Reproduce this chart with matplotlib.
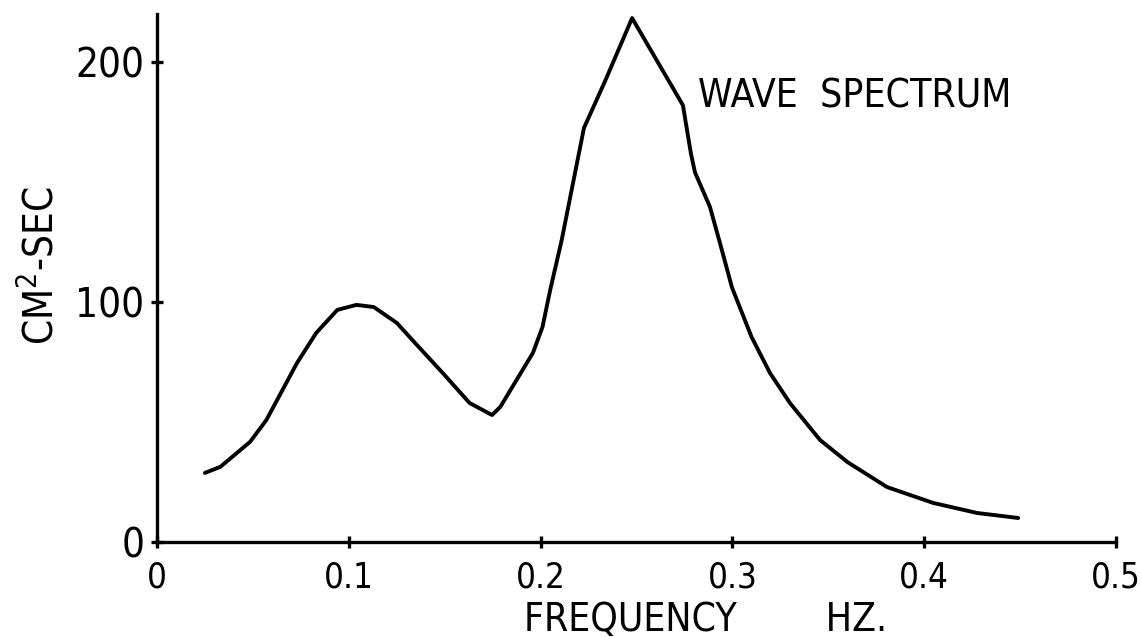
import matplotlib
matplotlib.use("Agg")
import matplotlib.pyplot as plt

# spectral density
freq = [0.025, 0.033, 0.0485, 0.057, 0.073, 0.083, 0.094, 0.104, 0.113, 0.125,
        0.1355, 0.149, 0.163, 0.1747, 0.179, 0.196, 0.201, 0.205, 0.211, 0.2226,
        0.2336, 0.2477, 0.2742, 0.2784, 0.2805, 0.2883, 0.2935, 0.2998, 0.310,
        0.3196, 0.330, 0.3457, 0.360, 0.3806, 0.4046, 0.4275, 0.449]
spec = [28.8, 31.3, 41.7, 50.8, 74.6, 87.1, 96.7, 98.8, 97.9, 91.3,
        82.1, 70.4, 57.9, 52.9, 56.3, 78.8, 89.6, 105.0, 125.8, 172.5,
        192.0, 218.3, 182.0, 161.7, 154.0, 139.6, 124.6, 106.0, 85.4,
        70.4, 57.9, 42.5, 33.3, 22.9, 16.3, 12.1, 10.0]

x_ticks = [0, 0.1, 0.2, 0.3, 0.4, 0.5]
x_tick_labels = ["0", "0.1", "0.2", "0.3", "0.4", "0.5"]
y_ticks = [0, 100, 200]
y_tick_labels = ["0", "100", "200"]

plt.rcParams["font.family"] = ["DejaVu Sans"]
plt.rcParams["font.stretch"] = "condensed"

W, H = 1141, 637
fig = plt.figure(figsize=(W / 100, H / 100), dpi=100)
fig.patch.set_facecolor("white")
ax = fig.add_axes([157 / W, (H - 542) / H, (1116 - 157) / W, 528 / H])

ax.plot(freq, spec, color="black", lw=2.8,
        solid_joinstyle="round", solid_capstyle="round")

ax.set_xlim(0, 0.5)
ax.set_ylim(0, 220)

for side in ("top", "right"):
    ax.spines[side].set_visible(False)
for side in ("left", "bottom"):
    ax.spines[side].set_linewidth(2.4)

ax.set_xticks(x_ticks)
ax.set_xticklabels(x_tick_labels)
ax.set_yticks(y_ticks)
ax.set_yticklabels(y_tick_labels)
ax.tick_params(axis="both", direction="inout", length=8, width=2.4)
ax.tick_params(axis="x", labelsize=25, pad=9)
ax.tick_params(axis="y", labelsize=29, pad=5)

ax.text(0.282, 181, "WAVE  SPECTRUM", fontsize=28,
        ha="left", va="baseline")

fig.text(706 / W, (H - 631) / H, "FREQUENCY        HZ.", fontsize=28,
         ha="center", va="baseline")
fig.text(42 / W, 1 - 266 / H, "CM$^2$-SEC", fontsize=29, rotation=90,
         ha="center", va="center")

fig.savefig("out.png", dpi=100, facecolor="white")
